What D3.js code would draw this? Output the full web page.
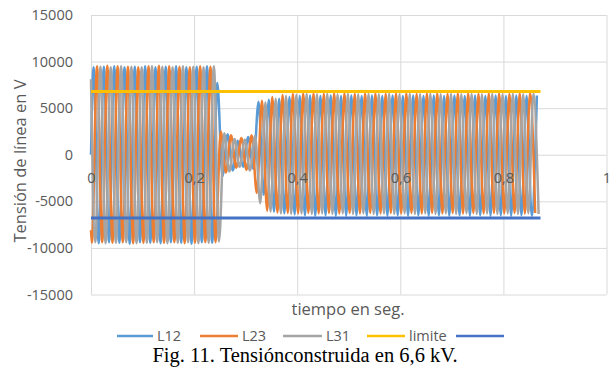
<!DOCTYPE html>
<html>
<head>
<meta charset="utf-8">
<script src="https://cdn.jsdelivr.net/npm/d3@7"></script>
<style>
	body { margin: 0; background: #fff; }
	text { font-family: 'Open Sans', sans-serif; fill: #595959; }
	.caption { font-family: 'Liberation Serif', serif; fill: #000; }
</style>
</head>
<body>
<div id="graph"></div>
<script>
// peaks of each half cycle (V)
// sample i sits at t = offset + i * halfPeriod
var halfPeriod = 0.01
var seriesNames = ['L12', 'L23', 'L31']
var offsets = [0.005, 0.00167, 0.00833]
var startValues = [0, -8100, 8100]

var L12 = [
	9400,-9500,9450,-9400,9500,-9450,9400,-9550,9450,-9400,9500,-9450,
	9400,-9500,9450,-9400,9500,-9450,9400,-9550,9450,-9400,9500,-9450,
	7700,
	-2300,2200,-1700,1500,-1300,1900,-1500,
	5700,-4300,5900,-6100,6000,-6300,6200,-6400,6300,-6500,
	6350,-6550,6300,-6500,6350,-6550,6300,-6550,6350,-6500,
	6300,-6550,6350,-6500,6300,-6550,6350,-6500,6300,-6550,
	6350,-6500,6300,-6550,6350,-6500,6300,-6550,6350,-6500,
	6300,-6550,6350,-6500,6300,-6550,6350,-6500,6300,-6550,
	6350,-6500,6300,-6550,6350
]
var L23 = [
	-9450,9500,-9400,9550,-9450,9500,-9400,9450,-9500,9400,-9450,9500,
	-9400,9550,-9450,9500,-9400,9450,-9500,9400,-9450,9500,-9400,9450,
	-9400,
	2500,-1900,2100,-1400,1800,-1600,2100,
	-4100,5800,-6000,6200,-6200,6400,-6250,6550,-6300,6600,
	-6250,6600,-6300,6550,-6250,6600,-6300,6600,-6250,6550,
	-6300,6600,-6250,6600,-6300,6550,-6250,6600,-6300,6600,
	-6250,6550,-6300,6600,-6250,6600,-6300,6550,-6250,6600,
	-6300,6600,-6250,6550,-6300,6600,-6250,6600,-6300,6550,
	-6250,6600,-6300,6600,-6250
]
var L31 = [
	-9400,9450,-9500,9400,-9450,9500,-9400,9450,-9500,9400,-9450,9500,
	-9400,9450,-9500,9400,-9450,9500,-9400,9450,-9500,9400,-9450,9500,
	-9300,
	2300,-1800,1700,-1300,1600,-1700,2000,
	-5200,5600,-6100,6000,-6300,6300,-6350,6450,-6300,6550,
	-6350,6500,-6300,6550,-6350,6500,-6300,6550,-6350,6500,
	-6300,6550,-6350,6500,-6300,6550,-6350,6500,-6300,6550,
	-6350,6500,-6300,6550,-6350,6500,-6300,6550,-6350,6500,
	-6300,6550,-6350,6500,-6300,6550,-6350,6500,-6300,6550,
	-6350,6500,-6300,6550,-6350
]
var peaks = [L12, L23, L31]

var limitT = [0, 0.872]
var limite = [6800, 6800]
var lower = [-6800, -6800]

var xTicks = [0, 0.2, 0.4, 0.6, 0.8, 1]
var yTicks = [-15000, -10000, -5000, 0, 5000, 10000, 15000]

var colors = ['#5b9bd5', '#ed7d31', '#a5a5a5', '#ffc000', '#4472c4']
var legendNames = ['L12', 'L23', 'L31', 'limite', '']

var w = 614
var h = 374

var svg = d3.select('#graph')
	.append('svg')
	.attr('width', w)
	.attr('height', h)

var xScale = d3.scaleLinear().domain([0, 1]).range([91, 606.5])
var yScale = d3.scaleLinear().domain([-15000, 15000]).range([294.5, 15])

// spanish style: decimal comma, plain hyphen for minus
var es = d3.formatLocale({ decimal: ',', thousands: '.', grouping: [3], currency: ['', ''], minus: '-' })
var fmtX = es.format('~g')
var fmtY = es.format('d')

// gridlines
var grid = svg.append('g')
grid.append('g')
	.attr('transform', 'translate(0,' + yScale(-15000) + ')')
	.call(d3.axisBottom(xScale).tickValues(xTicks).tickSize(-(yScale(-15000) - yScale(15000))).tickFormat(''))
grid.append('g')
	.attr('transform', 'translate(' + xScale(0) + ',0)')
	.call(d3.axisLeft(yScale).tickValues(yTicks).tickSize(-(xScale(1) - xScale(0))).tickFormat(''))
grid.selectAll('.domain').remove()
grid.selectAll('line').attr('stroke', '#d9d9d9').attr('stroke-width', 1)

// y tick labels
var yAxis = svg.append('g')
	.attr('transform', 'translate(' + xScale(0) + ',0)')
	.call(d3.axisLeft(yScale).tickValues(yTicks).tickSize(0).tickPadding(18).tickFormat(fmtY))
yAxis.select('.domain').remove()
yAxis.selectAll('text').style('font-size', '14.5px').attr('fill', '#595959').style('font-family', "'Open Sans', sans-serif")

// waveforms
var line = d3.line()
	.x((d) => xScale(d.t))
	.y((d) => yScale(d.v))
	.curve(d3.curveMonotoneX)

peaks.forEach(function(vals, s) {
	var pts = [{ t: 0, v: startValues[s] }]
	vals.forEach(function(v, i) {
		pts.push({ t: offsets[s] + i * halfPeriod, v: v })
	})
	svg.append('path')
		.datum(pts)
		.attr('d', line)
		.attr('fill', 'none')
		.attr('stroke', colors[s])
		.attr('stroke-width', 2.5)
})

// limit lines
;[limite, lower].forEach(function(vals, k) {
	var pts = vals.map((v, i) => ({ t: limitT[i], v: v }))
	svg.append('path')
		.datum(pts)
		.attr('d', d3.line().x((d) => xScale(d.t)).y((d) => yScale(d.v)))
		.attr('fill', 'none')
		.attr('stroke', colors[3 + k])
		.attr('stroke-width', 3)
})

// x tick labels sit under the zero line
var xAxis = svg.append('g')
	.attr('transform', 'translate(0,' + yScale(0) + ')')
	.call(d3.axisBottom(xScale).tickValues(xTicks).tickSize(0).tickPadding(18).tickFormat(fmtX))
xAxis.select('.domain').remove()
xAxis.selectAll('text').style('font-size', '14.5px').attr('fill', '#595959').style('font-family', "'Open Sans', sans-serif")

// axis titles
svg.append('text')
	.attr('x', 348)
	.attr('y', 315)
	.attr('text-anchor', 'middle')
	.style('font-size', '16.5px')
	.text('tiempo en seg.')

svg.append('text')
	.attr('transform', 'translate(26,161) rotate(-90)')
	.attr('text-anchor', 'middle')
	.style('font-size', '16.5px')
	.text('Tensión de línea en V')

// legend
var legendX = [117, 200, 283, 367, 456]
var legendLen = [36, 38, 39, 38, 48]
var legend = svg.append('g')
legendNames.forEach(function(name, i) {
	legend.append('line')
		.attr('x1', legendX[i])
		.attr('x2', legendX[i] + legendLen[i])
		.attr('y1', 336)
		.attr('y2', 336)
		.attr('stroke', colors[i])
		.attr('stroke-width', 2.5)
	legend.append('text')
		.attr('x', legendX[i] + legendLen[i] + 4)
		.attr('y', 341)
		.style('font-size', '14.5px')
		.text(name)
})

svg.append('text')
	.attr('class', 'caption')
	.attr('x', 305)
	.attr('y', 362)
	.attr('text-anchor', 'middle')
	.style('font-size', '20.5px')
	.text('Fig. 11. Tensiónconstruida en 6,6 kV.')
</script>
</body>
</html>
